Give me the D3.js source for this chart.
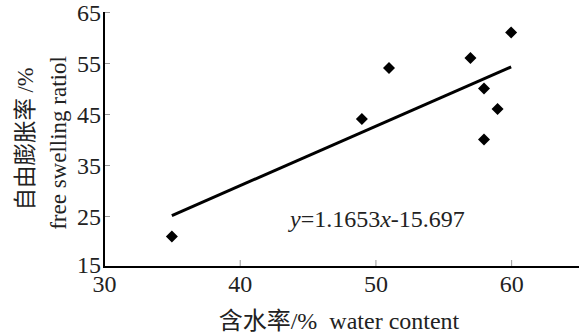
<!DOCTYPE html>
<html>
<head>
<meta charset="utf-8">
<script src="https://cdn.jsdelivr.net/npm/d3@7"></script>
<style>
  body { margin: 0; background: #fff; }
  text { font-family: "Liberation Serif", "Noto Sans CJK SC", serif; fill: #222; }
</style>
</head>
<body>
<svg id="chart"></svg>
<script>
// water content (%) vs free swelling ratio (%)
const waterContent  = [35, 49, 51, 57, 58, 59, 58, 60]
const swellingRatio = [21, 44, 54, 56, 50, 46, 40, 61]
const xTicks = [30, 40, 50, 60]
const yTicks = [15, 25, 35, 45, 55, 65]
const fitSlope = 1.1653, fitIntercept = -15.697
const fitRange = [35, 60]

const width = 581, height = 335
const serif = "'Liberation Serif', 'Noto Sans CJK SC', serif"

const svg = d3.select("#chart")
    .attr("width", width)
    .attr("height", height)

const x = d3.scaleLinear().domain([30, 65]).range([104, 579])
const y = d3.scaleLinear().domain([15, 65]).range([267, 12])

// x axis
const gx = svg.append("g")
    .attr("transform", `translate(0,${y(15)})`)
    .call(d3.axisBottom(x).tickValues(xTicks).tickSizeInner(-7).tickSizeOuter(0).tickPadding(11))
    .attr("font-family", serif)
    .attr("font-size", 24)
gx.select(".domain").remove()
gx.selectAll(".tick line").attr("stroke", "#999")
gx.selectAll(".tick text").attr("dy", "0.6em").attr("fill", "#222")

// y axis
const gy = svg.append("g")
    .attr("transform", `translate(${x(30)},0)`)
    .call(d3.axisLeft(y).tickValues(yTicks).tickSizeInner(-6).tickSizeOuter(0).tickPadding(3))
    .attr("font-family", serif)
    .attr("font-size", 24)
gy.select(".domain").remove()
gy.selectAll(".tick line").attr("stroke", "#999")
gy.selectAll(".tick text").attr("dy", "0.36em").attr("fill", "#222")
gy.selectAll(".tick").filter(d => d === 15).select("line").remove()
gy.selectAll(".tick").filter(d => d === 15).select("text").attr("dy", "0.22em")

// axis lines
svg.append("line")
    .attr("x1", x(30)).attr("x2", x(30))
    .attr("y1", y(65)).attr("y2", y(15) + 1)
    .attr("stroke", "#000").attr("stroke-width", 2)
svg.append("line")
    .attr("x1", x(30) - 1).attr("x2", x(65))
    .attr("y1", y(15)).attr("y2", y(15))
    .attr("stroke", "#000").attr("stroke-width", 2)

// trend line
svg.append("line")
    .attr("x1", x(fitRange[0])).attr("y1", y(fitSlope * fitRange[0] + fitIntercept))
    .attr("x2", x(fitRange[1])).attr("y2", y(fitSlope * fitRange[1] + fitIntercept))
    .attr("stroke", "#000").attr("stroke-width", 3)

// points (diamonds)
svg.selectAll("path.pt")
    .data(waterContent)
    .enter()
    .append("path")
    .attr("class", "pt")
    .attr("d", d3.symbol(d3.symbolSquare, 72))
    .attr("transform", (d, i) => `translate(${x(d)},${y(swellingRatio[i])}) rotate(45)`)
    .attr("fill", "#000")

// equation
const eq = svg.append("text")
    .attr("x", 290).attr("y", 227)
    .attr("font-size", 24)
eq.append("tspan").attr("font-style", "italic").text("y")
eq.append("tspan").text("=1.1653")
eq.append("tspan").attr("font-style", "italic").text("x")
eq.append("tspan").text("-15.697")

// axis titles
svg.append("text")
    .attr("x", 339).attr("y", 329)
    .attr("text-anchor", "middle")
    .attr("font-size", 24)
    .attr("xml:space", "preserve")
    .text("含水率/%  water content")

svg.append("text")
    .attr("transform", "translate(33,139) rotate(-90)")
    .attr("text-anchor", "middle")
    .attr("font-size", 22.5)
    .attr("fill", "#444")
    .text("自由膨胀率 /%")

svg.append("text")
    .attr("transform", "translate(66,143) rotate(-90)")
    .attr("text-anchor", "middle")
    .attr("font-size", 23)
    .text("free swelling ratiol")
</script>
</body>
</html>
